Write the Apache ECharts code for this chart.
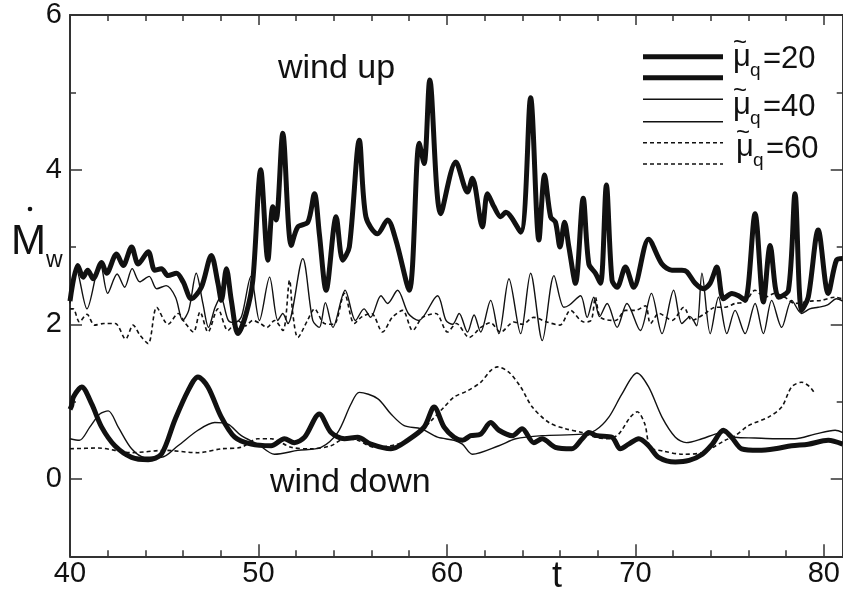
<!DOCTYPE html>
<html><head><meta charset="utf-8">
<script src="https://cdn.jsdelivr.net/npm/echarts@6/dist/echarts.min.js"></script>
<style>html,body{margin:0;padding:0;background:#fff}#c{width:843px;height:597px}</style>
</head><body><div id="c"></div>
<script>
// ---- tick labels ----
const xMajor = [40, 50, 60, 70, 80];
const xMinor = [42, 44, 46, 48, 52, 54, 56, 58, 62, 64, 66, 68, 72, 74, 76, 78];
const yMajor = [0, 2, 4, 6];
const yMinor = [-1, 1, 3, 5];
const legendLabels = ['=20', '=40', '=60'];

// ---- wind up, mu=20 (thick) ----
const upT20 = [40.0,40.41,40.7,40.94,41.23,41.68,41.94,42.47,42.82,43.27,43.62,44.15,44.5,44.85,45.2,45.65,46.0,46.44,46.97,47.5,47.85,48.03,48.3,48.56,48.91,49.35,49.7,50.12,50.5,50.76,50.94,51.29,51.74,52.09,52.62,52.97,53.23,53.59,54.12,54.47,54.82,55.35,55.7,56.32,56.85,57.29,58.0,58.53,58.79,59.09,59.67,60.47,61.09,61.35,61.88,62.15,62.5,62.85,63.12,63.91,64.44,64.88,65.18,65.5,65.76,66.0,66.24,66.47,66.82,67.23,67.53,67.88,68.15,68.46,68.76,69.03,69.47,69.91,70.7,71.41,71.94,72.47,72.73,73.17,73.61,73.96,74.32,74.67,75.12,75.47,75.82,76.35,76.79,77.15,77.59,78.12,78.47,78.82,79.17,79.7,80.23,80.67,81.0];
const up20 = [2.3,2.76,2.61,2.70,2.59,2.80,2.66,2.91,2.76,3.0,2.78,2.94,2.70,2.72,2.63,2.66,2.55,2.33,2.48,2.89,2.53,2.31,2.72,2.31,1.88,2.14,2.57,4.0,2.83,3.52,3.35,4.47,3.02,3.26,3.32,3.69,3.17,2.44,3.39,2.83,3.0,4.38,3.39,3.17,3.35,3.09,2.44,4.34,4.08,5.16,3.43,4.10,3.71,3.89,3.26,3.69,3.52,3.39,3.45,3.19,4.93,3.09,3.93,3.39,3.32,3.0,3.32,3.0,2.53,3.63,2.78,2.66,2.53,3.80,2.57,2.48,2.74,2.48,3.1,2.78,2.70,2.70,2.68,2.53,2.46,2.53,2.74,2.33,2.40,2.37,2.31,3.43,2.29,3.02,2.35,2.44,3.69,2.18,2.35,3.22,2.40,2.83,2.85];

// ---- wind up, mu=40 (thin) ----
const upT40 = [40.0,40.35,40.9,41.6,42.0,42.5,42.9,43.3,43.7,44.2,44.6,45.1,45.6,45.98,46.3,46.7,47.05,47.35,47.7,48.0,48.4,48.75,49.1,49.6,50.05,50.59,51.03,51.29,51.56,52.35,52.88,53.23,53.55,53.95,54.6,55.15,55.6,55.95,56.5,56.85,57.38,57.95,58.5,59.5,59.95,60.3,60.65,61.09,61.44,61.79,62.32,62.76,63.29,63.91,64.44,65.06,65.68,66.2,66.5,67.09,67.44,67.79,68.1,68.5,69.03,69.55,70.26,70.85,71.41,72.03,72.47,72.9,73.25,73.53,73.97,74.41,74.85,75.29,75.82,76.35,76.79,77.23,77.76,78.29,78.82,79.25,79.7,80.2,80.67,81.0];
const up40 = [2.27,2.7,2.2,2.8,2.4,2.65,2.48,2.72,2.55,2.62,2.46,2.5,2.35,2.05,2.18,2.66,2.27,1.96,2.22,2.35,2.05,2.02,2.1,2.62,2.05,2.61,2.05,2.14,2.01,2.85,2.05,1.96,2.28,1.96,2.44,2.05,2.20,2.09,2.37,2.27,2.44,2.14,2.05,2.37,2.05,2.0,2.14,1.90,2.12,1.90,2.31,1.88,2.59,1.88,2.66,1.79,2.63,2.22,2.25,2.37,2.09,2.35,2.1,2.27,1.96,2.27,1.92,2.4,1.88,2.44,2.01,2.1,1.98,2.66,1.88,2.35,1.88,2.18,1.88,2.27,1.88,2.31,1.96,2.31,2.14,2.2,2.22,2.25,2.33,2.30];

// ---- wind up, mu=60 (dashed) ----
const upT60 = [40.0,40.17,40.5,40.9,41.3,41.8,42.4,42.95,43.35,43.71,44.15,44.6,45.2,45.75,46.1,46.55,46.9,47.32,47.85,48.38,48.9,49.3,49.7,50.1,50.45,50.85,51.3,51.65,51.82,52.09,52.6,52.97,53.5,54.0,54.56,55.08,55.5,56.0,56.58,57.1,57.65,58.18,58.7,59.41,60.03,60.5,61.18,61.8,62.3,62.85,63.55,64.0,64.6,65.3,66.0,66.55,67.26,67.65,67.88,68.15,68.95,69.47,70.0,70.53,70.8,71.25,71.95,72.57,73.0,73.7,74.23,74.76,75.29,75.82,76.35,76.87,77.4,77.93,78.47,79.3,79.87,80.57,81.0];
const up60 = [2.2,2.20,2.03,2.13,1.99,2.01,2.01,1.81,1.99,1.86,1.75,2.22,2.0,2.14,2.02,1.9,2.16,1.90,2.2,1.92,2.05,1.98,2.05,2.01,1.96,2.05,1.92,2.57,2.14,1.83,2.05,2.2,2.01,2.0,2.40,2.01,2.1,2.14,1.90,2.09,2.18,1.92,2.09,2.14,1.90,2.01,1.83,1.96,2.02,1.90,2.03,2.0,2.09,2.03,1.99,2.18,2.03,2.05,2.35,2.09,2.05,2.18,2.18,2.24,2.01,2.14,2.05,2.22,2.05,2.14,2.22,2.22,2.27,2.29,2.44,2.35,2.40,2.35,2.27,2.3,2.31,2.35,2.33];

// ---- wind down, mu=20 (thick) ----
const dnT20 = [40.0,40.09,40.18,40.62,41.15,41.68,42.38,43.27,44.15,44.85,45.56,46.26,46.79,47.32,48.03,48.74,49.62,50.67,51.38,51.9,52.45,53.23,53.85,54.56,55.26,55.97,57.03,57.91,58.79,59.32,59.85,60.38,60.82,61.26,61.79,62.32,62.76,63.47,63.99,64.61,65.05,65.75,66.63,67.18,67.53,67.97,68.76,69.2,69.64,70.18,70.7,71.23,72.12,72.85,73.55,74.08,74.67,75.1,75.64,76.53,77.41,78.29,79.17,80.23,81.0];
const dn20 = [0.9,0.95,1.06,1.19,0.97,0.67,0.43,0.28,0.25,0.32,0.76,1.14,1.32,1.19,0.80,0.54,0.45,0.43,0.52,0.47,0.54,0.84,0.60,0.52,0.54,0.45,0.39,0.50,0.67,0.93,0.67,0.54,0.50,0.56,0.58,0.73,0.63,0.56,0.65,0.47,0.52,0.41,0.39,0.52,0.60,0.56,0.54,0.39,0.45,0.52,0.43,0.28,0.22,0.24,0.32,0.45,0.63,0.54,0.39,0.37,0.39,0.43,0.45,0.50,0.45];

// ---- wind down, mu=40 (thin) ----
const dnT40 = [40.0,40.5,41.05,41.58,42.03,42.56,43.27,43.97,44.85,45.73,46.79,47.68,48.38,49.09,49.97,50.85,52.09,53.32,54.2,54.91,55.35,56.32,57.03,57.73,58.62,59.5,60.38,60.82,61.35,62.76,63.65,65.05,67.18,67.88,68.59,69.29,70.08,70.7,71.41,72.12,72.7,73.53,74.23,74.67,75.29,76.35,77.41,78.47,79.53,80.6,81.0];
const dn40 = [0.52,0.50,0.67,0.84,0.88,0.67,0.39,0.28,0.28,0.43,0.63,0.73,0.71,0.56,0.45,0.32,0.37,0.41,0.60,0.97,1.12,1.04,0.84,0.69,0.65,0.54,0.50,0.45,0.32,0.43,0.52,0.56,0.58,0.63,0.80,1.10,1.37,1.19,0.80,0.54,0.47,0.52,0.58,0.60,0.54,0.53,0.52,0.52,0.58,0.63,0.60];

// ---- wind down, mu=60 (dashed) ----
const dnT60 = [40.0,41.5,43.27,45.03,46.79,48.03,49.09,49.97,50.67,51.73,52.79,53.85,54.56,55.26,56.15,57.38,58.44,59.15,59.85,60.38,61.09,61.79,62.32,62.68,63.29,63.91,64.53,65.41,66.29,67.18,67.88,68.59,69.11,69.73,70.1,70.5,70.79,71.5,72.5,73.53,74.76,75.29,76.0,77.06,77.76,78.29,78.82,79.26,79.53];
const dn60 = [0.39,0.40,0.34,0.37,0.34,0.39,0.41,0.52,0.52,0.41,0.39,0.43,0.52,0.50,0.41,0.45,0.58,0.75,0.93,1.06,1.14,1.25,1.40,1.45,1.38,1.19,0.93,0.73,0.65,0.60,0.54,0.52,0.58,0.80,0.87,0.71,0.41,0.36,0.32,0.34,0.50,0.56,0.69,0.80,0.93,1.19,1.25,1.19,1.10];

const pairs = (ts, vs) => ts.map((t, i) => [t, vs[i]]);
const INK = '#111';
const FONT = 'Liberation Sans, Arial, sans-serif';
const thick = { color: INK, width: 5 };
const thin = { color: INK, width: 1.4 };
const dashed = { color: INK, width: 1.6, type: [4, 3] };

function lineSeries(data, style) {
  return { type: 'line', data: data, showSymbol: false, smooth: 0.3, clip: true,
    lineStyle: style, silent: true, animation: false, xAxisIndex: 0, yAxisIndex: 0 };
}

function xAx(pos, vals, len, withLine, withLabels) {
  return { type: 'value', min: 40, max: 81, position: pos,
    axisLine: { show: withLine, onZero: false, lineStyle: { color: '#333', width: 2 } },
    axisTick: { show: true, inside: true, length: len, customValues: vals, lineStyle: { color: '#333', width: 1.5 } },
    axisLabel: { show: withLabels, customValues: vals, fontSize: 29, color: INK, margin: 3, fontFamily: FONT },
    splitLine: { show: false } };
}
function yAx(pos, vals, len, withLine, withLabels) {
  return { type: 'value', min: -1, max: 6, position: pos,
    axisLine: { show: withLine, onZero: false, lineStyle: { color: '#333', width: 2 } },
    axisTick: { show: true, inside: true, length: len, customValues: vals, lineStyle: { color: '#333', width: 1.5 } },
    axisLabel: { show: withLabels, customValues: vals, fontSize: 29, color: INK, margin: 8, fontFamily: FONT },
    splitLine: { show: false } };
}

// legend graphics (not data)
const legendGraphics = [];
const rowLineY = [[56.7, 77.7], [99.3, 121.7], [142.7, 164]];
const rowTextY = [59, 107, 149];
const rowStyles = [thick, thin, dashed];
for (let r = 0; r < 3; r++) {
  const st = rowStyles[r];
  rowLineY[r].forEach(y => legendGraphics.push({ type: 'line', shape: { x1: 643, y1: y, x2: 723, y2: y },
    style: { stroke: INK, lineWidth: st.width, lineDash: Array.isArray(st.type) ? st.type : null } }));
  const cy = rowTextY[r];
  const mx = 733 + (r === 2 ? 3 : 0);
  legendGraphics.push({ type: 'text', x: mx + 7, y: cy - 16, style: { text: '~', font: '24px ' + FONT, fill: INK, align: 'center', verticalAlign: 'middle' } });
  legendGraphics.push({ type: 'text', x: mx, y: cy - 1.5, style: { text: 'μ', font: '31px ' + FONT, fill: INK, align: 'left', verticalAlign: 'middle' } });
  legendGraphics.push({ type: 'text', x: mx + 17, y: cy + 12, style: { text: 'q', font: '19px ' + FONT, fill: INK, align: 'left', verticalAlign: 'middle' } });
  legendGraphics.push({ type: 'text', x: mx + 30, y: cy, style: { text: legendLabels[r], font: '31px ' + FONT, fill: INK, align: 'left', verticalAlign: 'middle' } });
}

const chart = echarts.init(document.getElementById('c'), null, { renderer: 'canvas' });
chart.setOption({
  animation: false,
  backgroundColor: '#fff',
  grid: { left: 70, top: 15, width: 774.6, height: 541.3, containLabel: false },
  xAxis: [
    xAx('bottom', xMajor, 12, true, true),
    xAx('bottom', xMinor, 6, false, false),
    xAx('top', xMajor, 10, true, false),
    xAx('top', xMinor, 6, false, false)
  ],
  yAxis: [
    yAx('left', yMajor, 12, true, true),
    yAx('left', yMinor, 6, false, false),
    yAx('right', yMajor, 12, true, false),
    yAx('right', yMinor, 6, false, false)
  ],
  series: [
    lineSeries(pairs(dnT60, dn60), dashed),
    lineSeries(pairs(dnT40, dn40), thin),
    lineSeries(pairs(dnT20, dn20), thick),
    lineSeries(pairs(upT60, up60), dashed),
    lineSeries(pairs(upT40, up40), thin),
    lineSeries(pairs(upT20, up20), thick)
  ],
  graphic: legendGraphics.concat([
    { type: 'text', x: 278, y: 69, style: { text: 'wind up', font: '34px ' + FONT, fill: INK, align: 'left', verticalAlign: 'middle' } },
    { type: 'text', x: 270, y: 483, style: { text: 'wind down', font: '34px ' + FONT, fill: INK, align: 'left', verticalAlign: 'middle' } },
    { type: 'text', x: 557, y: 577, style: { text: 't', font: '36px ' + FONT, fill: INK, align: 'center', verticalAlign: 'middle' } },
    { type: 'text', x: 11, y: 242, style: { text: 'M', font: '42px ' + FONT, fill: INK, align: 'left', verticalAlign: 'middle' } },
    { type: 'circle', shape: { cx: 30, cy: 209, r: 2.3 }, style: { fill: INK } },
    { type: 'text', x: 46, y: 261, style: { text: 'w', font: '23px ' + FONT, fill: INK, align: 'left', verticalAlign: 'middle' } }
  ])
});
</script></body></html>
